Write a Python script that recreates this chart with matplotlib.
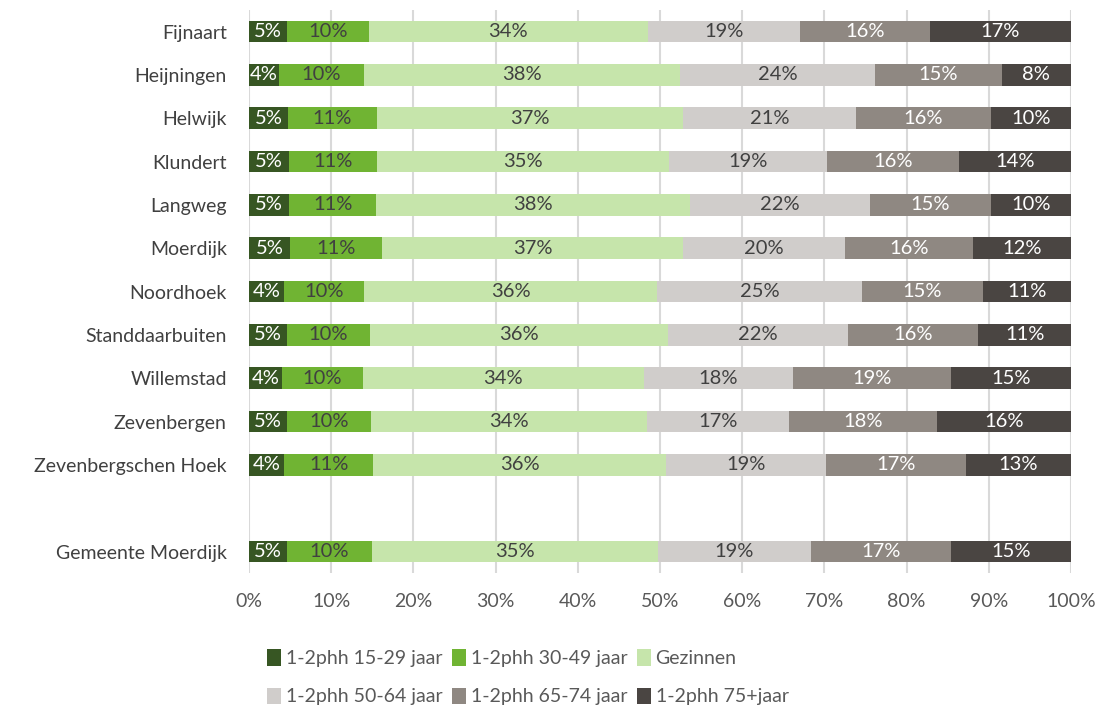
import matplotlib
matplotlib.use("Agg")
import matplotlib.pyplot as plt
import numpy as np

plt.rcParams['font.family'] = ['Lato', 'DejaVu Sans']

categories = ["Fijnaart", "Heijningen", "Helwijk", "Klundert", "Langweg", "Moerdijk",
              "Noordhoek", "Standdaarbuiten", "Willemstad", "Zevenbergen",
              "Zevenbergschen Hoek", "", "Gemeente Moerdijk"]

series_names = ["1-2phh 15-29 jaar", "1-2phh 30-49 jaar", "Gezinnen",
                "1-2phh 50-64 jaar", "1-2phh 65-74 jaar", "1-2phh 75+jaar"]

s_15_29 = [4.6, 3.6, 4.7, 4.9, 4.9, 5.0, 4.3, 4.6, 4.0, 4.6, 4.3, np.nan, 4.6]
s_30_49 = [10.0, 10.3, 10.8, 10.7, 10.6, 11.2, 9.7, 10.1, 9.9, 10.3, 10.8, np.nan, 10.3]
gezinnen = [34.0, 38.4, 37.2, 35.4, 38.2, 36.6, 35.6, 36.3, 34.1, 33.6, 35.6, np.nan, 34.8]
s_50_64 = [18.6, 23.7, 21.0, 19.2, 21.9, 19.7, 24.9, 22.0, 18.2, 17.2, 19.4, np.nan, 18.7]
s_65_74 = [15.8, 15.4, 16.4, 16.1, 14.8, 15.6, 14.7, 15.8, 19.2, 18.1, 17.0, np.nan, 17.0]
s_75 = [17.2, 8.4, 9.7, 13.6, 9.7, 11.9, 10.7, 11.3, 14.6, 16.3, 12.8, np.nan, 14.6]

series = [s_15_29, s_30_49, gezinnen, s_50_64, s_65_74, s_75]
colors = ["#375623", "#70b433", "#c6e5ab", "#d0cdcb", "#8f8882", "#4a4542"]
text_colors = ["white", "#404040", "#404040", "#404040", "white", "white"]

fig = plt.figure(figsize=(11, 7.13), dpi=100)
ax = fig.add_axes([0.2264, 0.196, 0.7472, 0.790])

data = np.array(series, dtype=float)
totals = np.nansum(data, axis=0)
totals[totals == 0] = 1
norm = data / totals * 100

y = np.arange(len(categories))
left = np.zeros(len(categories))
handles = []
for i, name in enumerate(series_names):
    vals = np.nan_to_num(norm[i])
    h = ax.barh(y, vals, left=left, height=0.5, color=colors[i], label=name, zorder=3)
    handles.append(h)
    for j in range(len(categories)):
        if np.isnan(data[i][j]):
            continue
        ax.text(left[j] + vals[j] / 2, y[j], f"{data[i][j]:.0f}%", ha="center", va="center",
                color=text_colors[i], fontsize=14.5, zorder=4)
    left += vals

ax.set_xlim(0, 100)
ax.set_ylim(len(categories) - 0.5, -0.5)
ax.set_xticks(np.arange(0, 101, 10))
ax.set_xticklabels([f"{v}%" for v in range(0, 101, 10)])
ax.set_yticks(y)
ax.set_yticklabels(categories)
ax.tick_params(axis="x", length=0, labelsize=14, labelcolor="#595959", pad=14)
ax.tick_params(axis="y", length=0, labelsize=14, labelcolor="#404040", pad=16)
ax.grid(axis="x", color="#d9d9d9", linewidth=1.5, zorder=0)
for sp in ax.spines.values():
    sp.set_visible(False)

order = [0, 3, 1, 4, 2, 5]
leg = fig.legend([handles[k] for k in order], [series_names[k] for k in order],
                 ncol=3, loc="center", bbox_to_anchor=(0.48, 0.05), frameon=False,
                 fontsize=14, handlelength=0.7, handleheight=0.9, handletextpad=0.25,
                 columnspacing=0.5, labelspacing=1.05)
for t in leg.get_texts():
    t.set_color("#595959")

fig.savefig("out.png", dpi=100)
